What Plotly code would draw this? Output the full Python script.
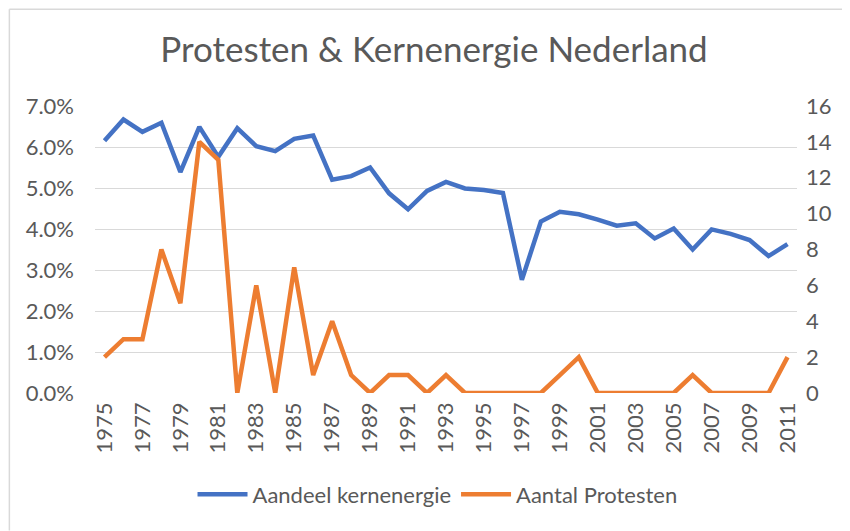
import plotly.graph_objects as go

years = list(range(1975, 2012))
aandeel_kernenergie = [
    0.0615, 0.0667, 0.0637, 0.0659, 0.0539, 0.0649, 0.0576, 0.0646, 0.0602, 0.0590,
    0.0620, 0.0628, 0.0520, 0.0529, 0.0550, 0.0487, 0.0448, 0.0493, 0.0515, 0.0499,
    0.0495, 0.0488, 0.0276, 0.0418, 0.0442, 0.0436, 0.0423, 0.0408, 0.0414, 0.0377,
    0.0401, 0.0350, 0.0399, 0.0388, 0.0373, 0.0334, 0.0363,
]
aantal_protesten = [
    2, 3, 3, 8, 5, 14, 13, 0, 6, 0,
    7, 1, 4, 1, 0, 1, 1, 0, 1, 0,
    0, 0, 0, 0, 1, 2, 0, 0, 0, 0,
    0, 1, 0, 0, 0, 0, 2,
]
tick_years = list(range(1975, 2012, 2))

FONT = "Lato"
GREY = "#595959"
OFF = 8  # page body offset
W, H = 850 - OFF, 531 - OFF

L = 94.5 - OFF
T = 105.7 - OFF
R = W - (797.5 - OFF)
B = H - (393.3 - OFF)
PW = W - L - R
PH = H - T - B

fig = go.Figure()
fig.add_trace(go.Scatter(
    x=years, y=aandeel_kernenergie, name="Aandeel kernenergie",
    mode="lines", line=dict(color="#4472C4", width=4.5), yaxis="y",
))
fig.add_trace(go.Scatter(
    x=years, y=aantal_protesten, name="Aantal Protesten",
    mode="lines", line=dict(color="#ED7D31", width=4.5), yaxis="y2",
))

fig.update_layout(
    width=W, height=H,
    margin=dict(l=L, r=R, t=T, b=B),
    paper_bgcolor="white", plot_bgcolor="white",
    font=dict(family=FONT, color=GREY, size=22),
    title=dict(text="Protesten &amp; Kernenergie Nederland",
               x=(434 - OFF) / W, xanchor="center",
               y=1 - (50 - OFF) / H, yanchor="middle",
               font=dict(family=FONT, size=35, color=GREY)),
    xaxis=dict(
        range=[1974.5, 2011.5], tickmode="array", tickvals=tick_years,
        ticktext=[str(y) for y in tick_years], tickangle=-90,
        showgrid=False, zeroline=False, showline=False, ticks="",
        ticklabelstandoff=4,
        tickfont=dict(size=22, color=GREY),
    ),
    yaxis=dict(
        range=[0, 0.07], dtick=0.01, tickformat=".1%",
        showgrid=True, gridcolor="#d9d9d9", gridwidth=1,
        zeroline=False, showline=False, ticks="", ticklabelstandoff=20,
        tickfont=dict(size=22, color=GREY),
    ),
    yaxis2=dict(
        range=[0, 16], dtick=2, overlaying="y", side="right",
        showgrid=False, zeroline=False, showline=False, ticks="",
        ticklabelstandoff=8,
        tickfont=dict(size=22, color=GREY),
    ),
    legend=dict(orientation="h", x=(437.5 - 94.5) / PW, xanchor="center",
                y=(393.3 - 495) / PH, yanchor="middle",
                font=dict(size=22, color=GREY), itemwidth=50, tracegroupgap=0),
    showlegend=True,
)

# chart frame: left and top edges only (the rest runs off the picture)
x_left = (0.75 - L) / PW
x_right = (W - L) / PW
y_top = (PH + T - 0.75) / PH
y_bottom = -B / PH
fig.add_shape(type="line", xref="paper", yref="paper",
              x0=x_left, x1=x_left, y0=y_bottom, y1=y_top,
              line=dict(color="#d9d9d9", width=1.5), layer="below")
fig.add_shape(type="line", xref="paper", yref="paper",
              x0=x_left, x1=x_right, y0=y_top, y1=y_top,
              line=dict(color="#d9d9d9", width=1.5), layer="below")

fig.write_html("out.html")
